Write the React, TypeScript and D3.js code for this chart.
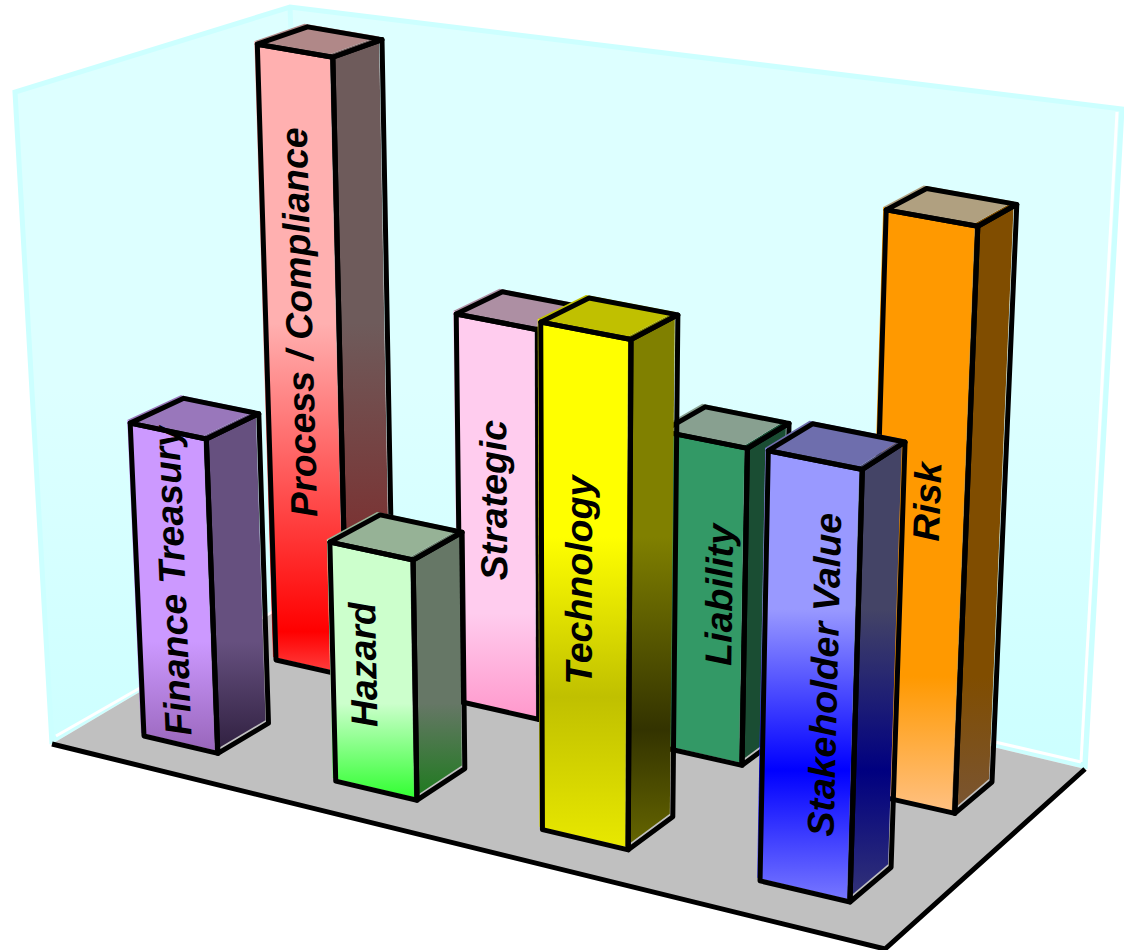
import React from "react";
import * as d3 from "d3";

// Bars sit on a 4 x 2 grid (percent of wall height)
const columns = ["c0", "c1", "c2", "c3"];
const rows = ["front", "back"];
const frontRow = ["Finance Treasury", "Hazard", "Technology", "Stakeholder Value"];
const frontValues = [49.6, 37.7, 77, 64.9];
const backRow = ["Process / Compliance", "Strategic", "Liability", "Risk"];
const backValues = [98.7, 62.8, 50.8, 90.5];

type Stop = [number, string];
const frontColors: Record<string, Stop[]> = {
  "Finance Treasury": [[0.68, "#CC99FF"], [1, "#9966BB"]],
  Hazard: [[0.65, "#CCFFCC"], [1, "#33FF33"]],
  Technology: [[0.42, "#FFFF00"], [0.72, "#C0C000"], [1, "#E8E800"]],
  "Stakeholder Value": [[0.37, "#9999FF"], [0.72, "#0000FF"], [1, "#7777FF"]],
  "Process / Compliance": [[0.45, "#FFB0B0"], [0.935, "#FF0000"], [1, "#FF4040"]],
  Strategic: [[0.75, "#FFCCEE"], [1, "#FF99CC"]],
  Liability: [[0, "#339966"], [1, "#339966"]],
  Risk: [[0.78, "#FF9900"], [1, "#FFC080"]],
};
const sideColors: Record<string, Stop[]> = {
  "Finance Treasury": [[0.68, "#66507F"], [1, "#302040"]],
  Hazard: [[0.65, "#667766"], [1, "#1F7A1F"]],
  Technology: [[0.42, "#808000"], [0.78, "#333300"], [1, "#666600"]],
  "Stakeholder Value": [[0.37, "#444466"], [0.72, "#000080"], [1, "#333377"]],
  "Process / Compliance": [[0.45, "#6E5B5B"], [0.935, "#802020"], [1, "#802020"]],
  Strategic: [[0, "#806677"], [1, "#806677"]],
  Liability: [[0, "#1A4D33"], [1, "#1A4D33"]],
  Risk: [[0.78, "#804D00"], [1, "#7A5533"]],
};
const topColors: Record<string, string> = {
  "Finance Treasury": "#9977BB",
  Hazard: "#96B296",
  Technology: "#C0C000",
  "Stakeholder Value": "#6E6EAD",
  "Process / Compliance": "#B08888",
  Strategic: "#AD8FA3",
  Liability: "#88A090",
  Risk: "#B0A080",
};
// Labels are not quite centred on their faces in the original
const labelNudge: Record<string, [number, number]> = {
  "Finance Treasury": [-2, -7],
  Hazard: [-11, -6],
  Technology: [-7, -5],
  "Stakeholder Value": [14, -1],
  "Process / Compliance": [-4, -37],
  Strategic: [-5, -16],
  Liability: [16, -3],
  Risk: [5, -9],
};

type Pt = [number, number];

// Room frame
const floorLeft: Pt = [52, 744];
const floorFront: Pt = [885, 949];
const floorRight: Pt = [1085, 769];
const floorBack: Pt = [320, 585];
const wallTopLeft: Pt = [15, 92];
const wallTopBack: Pt = [290, 7];
const wallTopRight: Pt = [1122, 109];

// Where the grid of bars lands on screen, plus vertical vanishing point
const gridCorners: Pt[] = [[144, 736], [850, 902], [992, 782], [323, 633]];
const vanish: Pt = [575, 10500];

// unit square -> quad
function makeHomography(q: Pt[]) {
  const [[x0, y0], [x1, y1], [x2, y2], [x3, y3]] = q;
  const dx1 = x1 - x2, dx2 = x3 - x2, sx = x0 - x1 + x2 - x3;
  const dy1 = y1 - y2, dy2 = y3 - y2, sy = y0 - y1 + y2 - y3;
  const den = dx1 * dy2 - dx2 * dy1;
  const g = (sx * dy2 - dx2 * sy) / den;
  const h = (dx1 * sy - sx * dy1) / den;
  return {
    a: x1 - x0 + g * x1, b: x3 - x0 + h * x3, c: x0,
    d: y1 - y0 + g * y1, e: y3 - y0 + h * y3, f: y0,
    g, h,
  };
}
const H = makeHomography(gridCorners);

const xScale = d3.scaleBand().domain(columns).range([0, 1]).paddingInner(0.6);
const depthScale = d3.scaleBand().domain(rows).range([0, 1]).paddingInner(0.62);
const heightScale = d3.scaleLinear().domain([0, 100]).range([0, -0.0626]);
// the columns crowd to the left a bit more than the perspective alone gives
const warp = d3.scalePow().exponent(1.03).domain([0, 1]).range([0, 1]);

// grid (u, v) and height value -> screen
function project(uRaw: number, v: number, value: number): Pt {
  const u = warp(uRaw);
  const k = heightScale(value);
  const w = H.g * u + H.h * v + 1 + k;
  return [
    (H.a * u + H.b * v + H.c + k * vanish[0]) / w,
    (H.d * u + H.e * v + H.f + k * vanish[1]) / w,
  ];
}

const poly = d3.line<Pt>().curve(d3.curveLinearClosed);
const open = d3.line<Pt>();

interface Bar {
  label: string;
  column: string;
  row: string;
  value: number;
}

const bars: Bar[] = [
  ...backRow.map((label, i) => ({ label, column: columns[i], row: "back", value: backValues[i] })),
  ...frontRow.map((label, i) => ({ label, column: columns[i], row: "front", value: frontValues[i] })),
];

const slug = (s: string) => s.replace(/[^a-zA-Z]/g, "");

const Column: React.FC<{ bar: Bar }> = ({ bar }) => {
  const u0 = xScale(bar.column) || 0;
  const u1 = u0 + xScale.bandwidth();
  const v0 = depthScale(bar.row) || 0;
  const v1 = v0 + depthScale.bandwidth();

  const front: Pt[] = [project(u0, v0, 0), project(u1, v0, 0), project(u1, v0, bar.value), project(u0, v0, bar.value)];
  const side: Pt[] = [project(u1, v0, 0), project(u1, v1, 0), project(u1, v1, bar.value), project(u1, v0, bar.value)];
  const top: Pt[] = [project(u0, v0, bar.value), project(u1, v0, bar.value), project(u1, v1, bar.value), project(u0, v1, bar.value)];

  const yTop = d3.min([...front, ...side], (p) => p[1]) || 0;
  const yBottom = d3.max([...front, ...side], (p) => p[1]) || 0;
  const id = slug(bar.label);

  // label runs up the middle of the front face
  const uMid = (u0 + u1) / 2;
  const low = project(uMid, v0, 0);
  const high = project(uMid, v0, bar.value);
  const angle = (Math.atan2(high[1] - low[1], high[0] - low[0]) * 180) / Math.PI;
  const [nx, ny] = labelNudge[bar.label];
  const mid: Pt = [(low[0] + high[0]) / 2 + nx, (low[1] + high[1]) / 2 + ny];

  const gradient = (name: string, stops: Stop[]) => (
    <linearGradient id={name} gradientUnits="userSpaceOnUse" x1={0} x2={0} y1={yTop} y2={yBottom}>
      {stops.map(([o, c]) => (
        <stop key={o} offset={o} stopColor={c} />
      ))}
    </linearGradient>
  );

  return (
    <g>
      <defs>
        {gradient(`front-${id}`, frontColors[bar.label])}
        {gradient(`side-${id}`, sideColors[bar.label])}
      </defs>
      <g transform="translate(-3,-3)">
        <path d={poly(front) || ""} fill={`url(#front-${id})`} />
        <path d={poly(side) || ""} fill={`url(#side-${id})`} />
        <path d={poly(top) || ""} fill={topColors[bar.label]} />
      </g>
      <g fill="none" stroke="#000" strokeWidth={5} strokeLinejoin="round">
        <path d={poly(front) || ""} />
        <path d={poly(side) || ""} />
        <path d={poly(top) || ""} />
      </g>
      <text
        transform={`translate(${mid[0]},${mid[1]}) rotate(${angle})`}
        textAnchor="middle"
        dy="0.36em"
        fontFamily="'Liberation Sans', Arial, sans-serif"
        fontWeight="bold"
        fontStyle="italic"
        fontSize={37.5}
        fill="#000"
      >
        {bar.label}
      </text>
    </g>
  );
};

const App: React.FC = () => {
  const wall: Pt[] = [floorLeft, wallTopLeft, wallTopBack, wallTopRight, floorRight, floorBack];
  return (
    <svg width={1124} height={950} style={{ position: "absolute", left: 0, top: 0 }}>
      <defs>
        <linearGradient id="wallFill" x1={0} x2={0} y1={0} y2={1}>
          <stop offset={0} stopColor="#DDFFFF" />
          <stop offset={0.5} stopColor="#DDFFFF" />
          <stop offset={1} stopColor="#CCFFFF" />
        </linearGradient>
        <linearGradient id="seam" gradientUnits="userSpaceOnUse" x1={0} x2={0} y1={wallTopBack[1]} y2={60}>
          <stop offset={0} stopColor="#CCFFFF" />
          <stop offset={1} stopColor="#CCFFFF" stopOpacity={0} />
        </linearGradient>
      </defs>

      {/* walls */}
      <path d={poly(wall) || ""} fill="url(#wallFill)" />
      <path
        d={open([floorLeft, wallTopLeft, wallTopBack, wallTopRight, floorRight]) || ""}
        fill="none"
        stroke="#CCFFFF"
        strokeWidth={5}
      />
      <path d={open([wallTopBack, [292, 60]]) || ""} fill="none" stroke="url(#seam)" strokeWidth={5} />
      <path
        d={open([[1117, 112], [1081, 762]]) || ""}
        fill="none"
        stroke="#fff"
        strokeWidth={3}
      />
      <path d={open([[56, 736], floorBack]) || ""} fill="none" stroke="#fff" strokeWidth={3} />
      <path d={open([floorBack, [1081, 762]]) || ""} fill="none" stroke="#fff" strokeWidth={3} />

      {/* floor */}
      <path d={poly([floorLeft, floorFront, floorRight, floorBack]) || ""} fill="#C0C0C0" />
      <path
        d={open([floorLeft, floorFront, floorRight]) || ""}
        fill="none"
        stroke="#000"
        strokeWidth={5}
      />

      {bars.map((b) => (
        <Column key={b.label} bar={b} />
      ))}
    </svg>
  );
};

export default App;
